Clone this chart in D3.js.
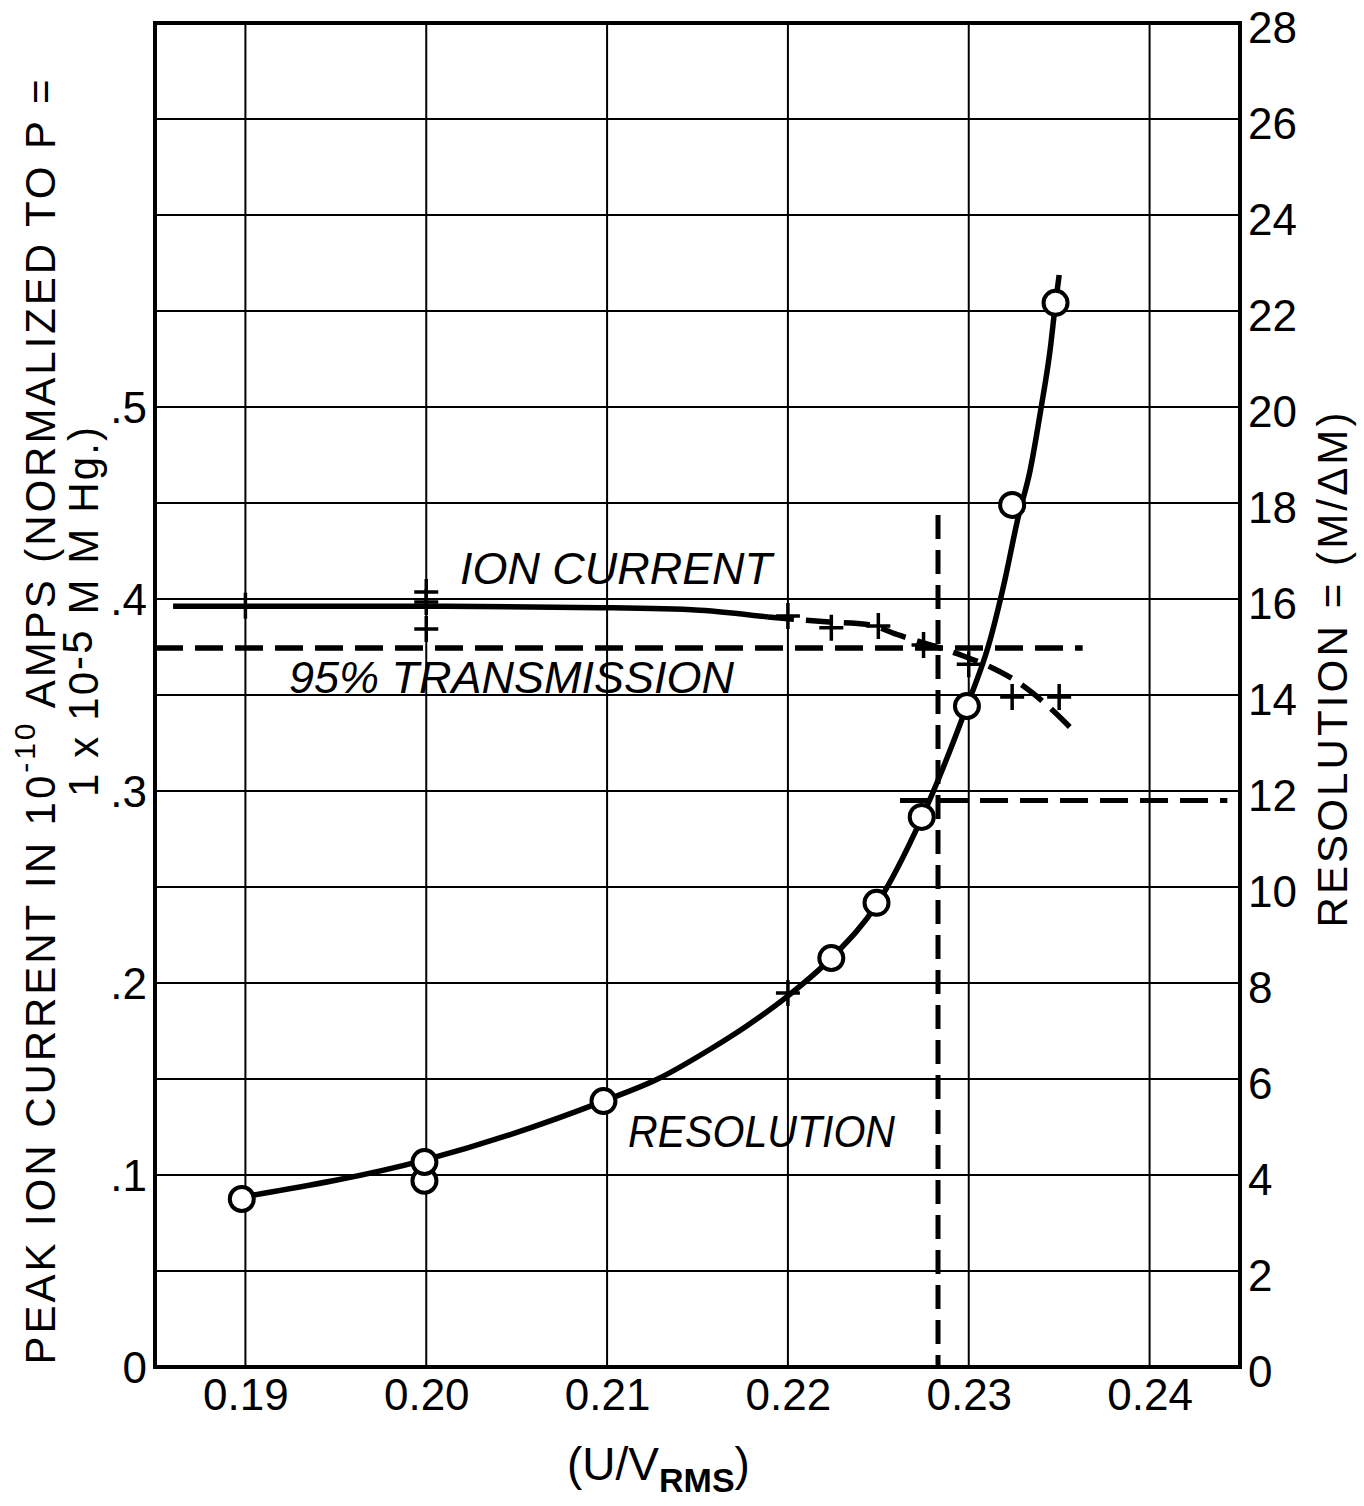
<!DOCTYPE html>
<html>
<head>
<meta charset="utf-8">
<script src="https://cdn.jsdelivr.net/npm/d3@7"></script>
<style>
body { margin: 0; background: #fff; }
text { font-family: "Liberation Sans", Arial, sans-serif; fill: #000; }
</style>
</head>
<body>
<div id="chart"></div>
<script>
// tick values
const xTicks = [0.19, 0.20, 0.21, 0.22, 0.23, 0.24];
const leftTicks = [0, 0.1, 0.2, 0.3, 0.4, 0.5];
const rightTicks = [0, 2, 4, 6, 8, 10, 12, 14, 16, 18, 20, 22, 24, 26, 28];

// resolution (right axis): measured circles, one cross, hand fitted curve
const resolutionCircles = [[0.1999, 3.88], [0.1898, 3.50], [0.1999, 4.27], [0.2098, 5.54], [0.2224, 8.52],
  [0.2249, 9.67], [0.2274, 11.46], [0.2299, 13.77], [0.2324, 17.96], [0.2348, 22.17]];
const resolutionCross = [[0.2200, 7.79]];
const resolutionCurve = [[0.1898, 3.54], [0.1999, 4.31], [0.2098, 5.54], [0.2128, 6.0], [0.2157, 6.62],
  [0.2177, 7.10], [0.2199, 7.70], [0.2224, 8.52], [0.2249, 9.63], [0.2274, 11.44], [0.2299, 13.77],
  [0.2311, 15.04], [0.2320, 16.40], [0.2327, 17.65], [0.2334, 18.69], [0.2340, 19.98], [0.2345, 21.19],
  [0.2348, 22.17], [0.2350, 22.75]];

// ion current (left axis)
const ionPoints = [[0.19, 0.3965], [0.20, 0.4036], [0.20, 0.3984], [0.20, 0.3844], [0.22, 0.3911],
  [0.2224, 0.385], [0.2250, 0.386], [0.2275, 0.376], [0.2300, 0.366], [0.2324, 0.349], [0.2350, 0.349]];
const ionSolid = [[0.186, 0.3962], [0.19, 0.3962], [0.20, 0.3962], [0.2096, 0.3955], [0.2151, 0.3942], [0.2189, 0.3906]];
const ionDashed = [[0.2189, 0.3906], [0.2223, 0.3880], [0.2244, 0.3867], [0.2262, 0.3810], [0.2284, 0.3745],
  [0.2297, 0.3703], [0.2312, 0.3646], [0.2327, 0.3568], [0.2342, 0.3458], [0.2357, 0.3323]];

// reference lines
const transmission95 = 0.3745, transmissionRange = [0.185, 0.2363];
const cutoffU = 0.2283, cutoffTop = 17.75;
const resLevel = 11.8, resLevelRange = [0.2262, 0.2443];

const width = 1364, height = 1506;
const svg = d3.select("#chart").append("svg")
  .attr("width", width)
  .attr("height", height);

const x = d3.scaleLinear().domain([0.185, 0.245]).range([155, 1240]);
const yL = d3.scaleLinear().domain([0, 0.7]).range([1367, 23]);
const yR = d3.scaleLinear().domain([0, 28]).range([1367, 23]);

// grid
const grid = svg.append("g").attr("stroke", "#000").attr("stroke-width", 2);
grid.selectAll(".v").data(xTicks).enter().append("line")
  .attr("x1", d => x(d)).attr("x2", d => x(d))
  .attr("y1", yR(0)).attr("y2", yR(28));
grid.selectAll(".h").data(rightTicks).enter().append("line")
  .attr("y1", d => yR(d)).attr("y2", d => yR(d))
  .attr("x1", x(0.185)).attr("x2", x(0.245));

svg.append("rect")
  .attr("x", x(0.185)).attr("y", yR(28))
  .attr("width", x(0.245) - x(0.185)).attr("height", yR(0) - yR(28))
  .attr("fill", "none").attr("stroke", "#000").attr("stroke-width", 4);

// axes
const fmtLeft = d => d === 0 ? "0" : d3.format(".1f")(d).replace(/^0/, "");
const gl = svg.append("g").attr("transform", `translate(${x(0.185)},0)`)
  .call(d3.axisLeft(yL).tickValues(leftTicks).tickSize(0).tickPadding(8).tickFormat(fmtLeft));
const gr = svg.append("g").attr("transform", `translate(${x(0.245)},0)`)
  .call(d3.axisRight(yR).tickValues(rightTicks).tickSize(0).tickPadding(8));
const gb = svg.append("g").attr("transform", `translate(0,${yL(0)})`)
  .call(d3.axisBottom(x).tickValues(xTicks).tickSize(0).tickPadding(12).tickFormat(d3.format(".2f")));
[gl, gr, gb].forEach(g => {
  g.select(".domain").remove();
  g.selectAll("text").attr("font-size", 44).attr("font-family", "Liberation Sans, Arial, sans-serif").attr("fill", "#000");
});
gr.selectAll("text").attr("dy", "0.45em");
gl.selectAll("text").attr("dy", "0.36em");

// reference dashed lines
svg.append("line")
  .attr("x1", x(transmissionRange[0])).attr("x2", x(transmissionRange[1]))
  .attr("y1", yL(transmission95)).attr("y2", yL(transmission95))
  .attr("stroke", "#000").attr("stroke-width", 5.5).attr("stroke-dasharray", "28,12");
svg.append("line")
  .attr("x1", x(cutoffU)).attr("x2", x(cutoffU))
  .attr("y1", yR(cutoffTop)).attr("y2", yR(0))
  .attr("stroke", "#000").attr("stroke-width", 5).attr("stroke-dasharray", "24,11");
svg.append("line")
  .attr("x1", x(resLevelRange[0])).attr("x2", x(resLevelRange[1]))
  .attr("y1", yR(resLevel)).attr("y2", yR(resLevel))
  .attr("stroke", "#000").attr("stroke-width", 5).attr("stroke-dasharray", "28,12");

// ion current line
const lineL = d3.line().x(d => x(d[0])).y(d => yL(d[1])).curve(d3.curveMonotoneX);
svg.append("path").attr("d", lineL(ionSolid))
  .attr("fill", "none").attr("stroke", "#000").attr("stroke-width", 5.5);
svg.append("path").attr("d", lineL(ionDashed))
  .attr("fill", "none").attr("stroke", "#000").attr("stroke-width", 5.5).attr("stroke-dasharray", "26,12");

const plus = "M-12,0H12M0,-13V13";
svg.selectAll(".ion").data(ionPoints).enter().append("path")
  .attr("transform", d => `translate(${x(d[0])},${yL(d[1])})`)
  .attr("d", plus).attr("stroke", "#000").attr("stroke-width", 3.5).attr("fill", "none");

// resolution curve
const lineR = d3.line().x(d => x(d[0])).y(d => yR(d[1])).curve(d3.curveMonotoneX);
svg.append("path").attr("d", lineR(resolutionCurve))
  .attr("fill", "none").attr("stroke", "#000").attr("stroke-width", 5.5);
svg.selectAll(".rc").data(resolutionCross).enter().append("path")
  .attr("transform", d => `translate(${x(d[0])},${yR(d[1])})`)
  .attr("d", plus).attr("stroke", "#000").attr("stroke-width", 3.5).attr("fill", "none");
svg.selectAll(".res").data(resolutionCircles).enter().append("circle")
  .attr("cx", d => x(d[0])).attr("cy", d => yR(d[1])).attr("r", 12)
  .attr("fill", "#fff").attr("stroke", "#000").attr("stroke-width", 4);

// curve labels
const note = (t, x0, y0, len) => svg.append("text")
  .attr("x", x0).attr("y", y0).attr("font-size", 44).attr("font-style", "italic")
  .attr("textLength", len).attr("lengthAdjust", "spacingAndGlyphs").text(t);
note("ION CURRENT", 460, 584, 312);
note("95% TRANSMISSION", 289, 693, 445);
note("RESOLUTION", 628, 1147, 267);

// left title, two lines
const t1 = svg.append("text")
  .attr("transform", "translate(55,722) rotate(-90)")
  .attr("text-anchor", "middle").attr("font-size", 42)
  .attr("textLength", 1285).attr("lengthAdjust", "spacing");
t1.append("tspan").text("PEAK ION CURRENT IN 10");
t1.append("tspan").attr("font-size", 30).attr("dy", -20).text("-10");
t1.append("tspan").attr("dy", 20).text(" AMPS (NORMALIZED TO P =");

const t2 = svg.append("text")
  .attr("transform", "translate(98,612) rotate(-90)")
  .attr("text-anchor", "middle").attr("font-size", 42)
  .attr("textLength", 370).attr("lengthAdjust", "spacing");
t2.append("tspan").text("1 x 10");
t2.append("tspan").attr("dy", -6).text("-5");
t2.append("tspan").attr("dy", 6).text(" M M Hg.)");

// right title
svg.append("text")
  .attr("transform", "translate(1347,670) rotate(-90)")
  .attr("text-anchor", "middle").attr("font-size", 42)
  .attr("textLength", 515).attr("lengthAdjust", "spacing")
  .text("RESOLUTION = (M/\u0394M)");

// bottom title
const tb = svg.append("text").attr("x", 567).attr("y", 1480).attr("font-size", 46);
tb.append("tspan").text("(U/V");
tb.append("tspan").attr("font-size", 34).attr("font-weight", "bold").attr("dy", 12).text("RMS");
tb.append("tspan").attr("dy", -12).text(")");
</script>
</body>
</html>
